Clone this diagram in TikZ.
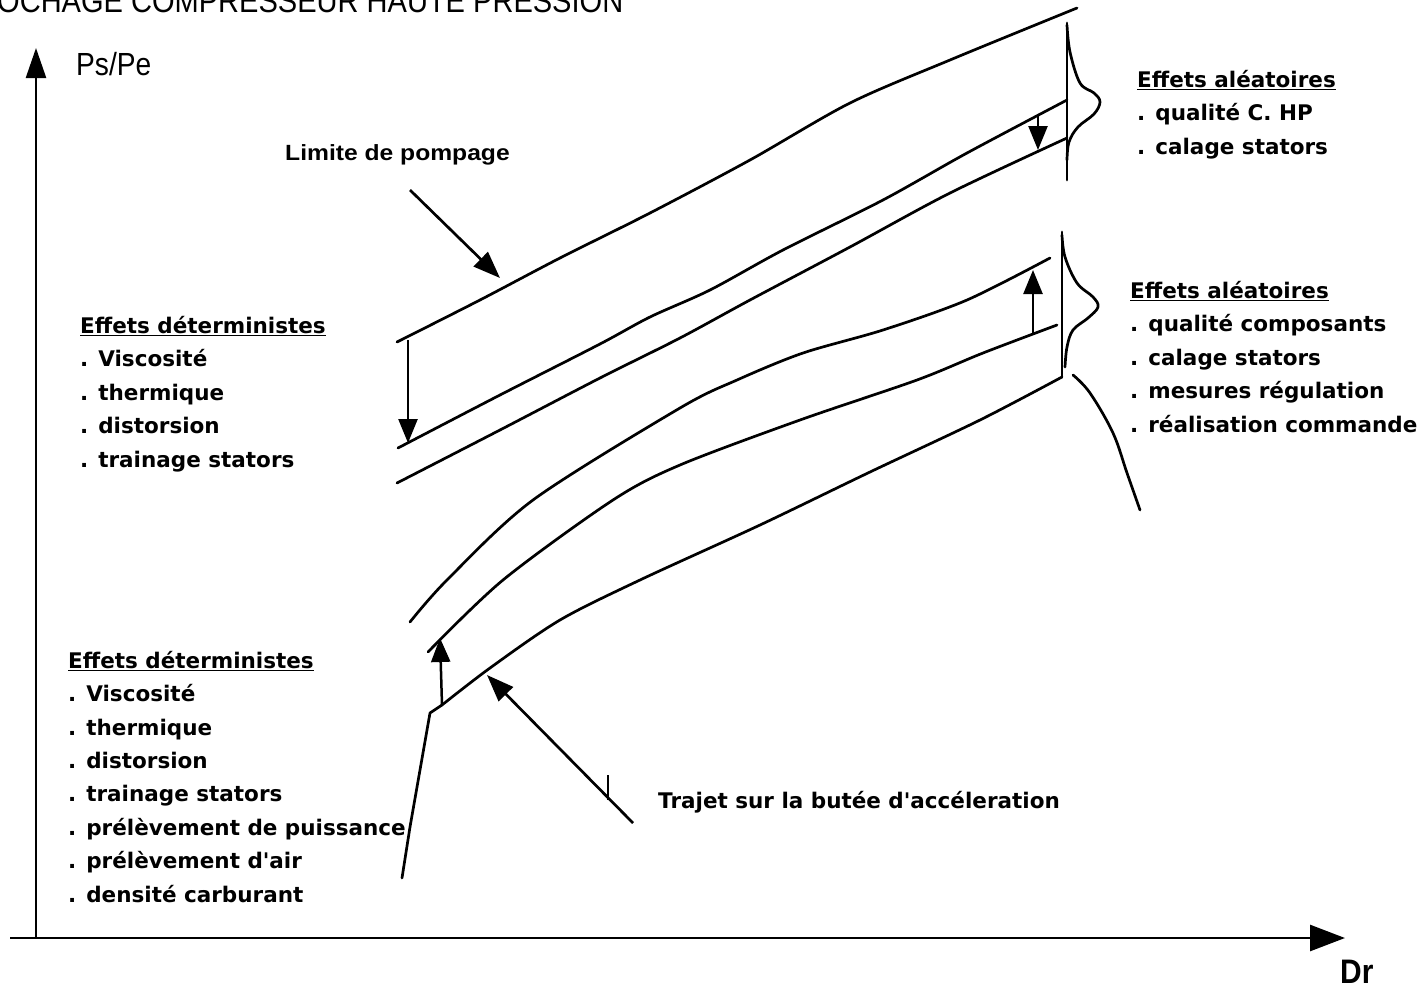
\documentclass[tikz,border=0pt]{standalone}
\usepackage{fontspec}
\usetikzlibrary{arrows.meta}
\setmainfont{DejaVu Sans}
\newfontfamily\narrowfont[FakeStretch=0.88]{Liberation Sans}
\newfontfamily\limfont[FakeStretch=1.12]{Liberation Sans}
\tikzset{
  trait/.style={line width=2.7pt,line cap=round,line join=round},
  fleche/.style={line width=2.7pt,-{Triangle[length=27pt,width=20pt]}},
  petite/.style={line width=2.5pt,-{Triangle[length=24pt,width=19pt]}},
  bloc/.style={align=left,font=\fontsize{21.5}{33.4}\selectfont\bfseries},
}
\begin{document}
\begin{tikzpicture}[x=1pt,y=-1pt]
        \useasboundingbox[fill=white] (0,0) rectangle (1422,988);
        % les blocs sont places par la ligne de base de leur derniere ligne
        \begin{scope}[every node/.style={anchor=base west,inner sep=0pt}]
          \node[font=\narrowfont\fontsize{33}{33}\selectfont] (titre) at (-3,12) {OCHAGE COMPRESSEUR HAUTE PRESSION};
          \node[font=\narrowfont\fontsize{32}{32}\selectfont] (ps) at (76,75) {Ps/Pe};
          \node[font=\narrowfont\fontsize{34}{34}\selectfont\bfseries] (dr) at (1340,983) {Dr};
          \node[font=\limfont\fontsize{22}{22}\selectfont\bfseries] (lim) at (285,160) {Limite de pompage};
          \node[bloc] (detHaut) at (80,467) {\underline{Effets déterministes}\\. Viscosité\\. thermique\\. distorsion\\. trainage stators};
          \node[bloc] (detBas) at (68,902) {\underline{Effets déterministes}\\. Viscosité\\. thermique\\. distorsion\\. trainage stators\\. prélèvement de puissance\\. prélèvement d\textquotesingle air\\. densité carburant};
          \node[bloc] (aleaHaut) at (1137,154) {\underline{Effets aléatoires}\\. qualité C. HP\\. calage stators};
          \node[bloc] (aleaBas) at (1130,432) {\underline{Effets aléatoires}\\. qualité composants\\. calage stators\\. mesures régulation\\. réalisation commande};
          \node[bloc] (trajet) at (658,808) {Trajet sur la butée d\textquotesingle accéleration};
        \end{scope}
        % axes
        \coordinate (O) at (36,938);
        \coordinate (yhaut) at (36,48);
        \coordinate (xgauche) at (10,938);
        \coordinate (xdroite) at (1345,938);
        \draw[line width=2.4pt,-{Triangle[length=30pt,width=20pt]}] (O) -- (yhaut);
        \draw[line width=2.7pt,-{Triangle[length=35pt,width=26pt]}] (xgauche) -- (xdroite);
        % bande du haut
        \draw[trait] plot[smooth,tension=0.5] coordinates {(397,342) (480,300) (560,258) (650,213) (750,160) (850,103) (950,60) (1077,8)};
        \draw[trait] plot[smooth,tension=0.5] coordinates {(398,448) (500,395) (600,344) (650,317) (710,290) (783,250) (883,200) (967,153) (1067,100)};
        \draw[trait] plot[smooth,tension=0.5] coordinates {(397,483) (500,430) (600,378) (680,338) (750,300) (850,247) (950,193) (1067,138)};
        \draw[trait] (1067,23) -- (1067,180);
        \draw[trait] plot[smooth,tension=0.6] coordinates {(1067,25) (1070,52) (1080,83) (1094,93) (1100,102) (1094,114) (1078,127) (1069,142) (1067,160)};
        % bande du bas
        \draw[trait] plot[smooth,tension=0.5] coordinates {(410,622) (447,580) (533,500) (680,408) (737,380) (803,353) (883,330) (967,300) (1050,258)};
        \draw[trait] plot[smooth,tension=0.5] coordinates {(428,652) (503,580) (613,500) (680,465) (800,420) (917,380) (983,353) (1057,325)};
        \draw[trait] (402,878) -- (410,827) -- (430,713) -- (442,705);
        \draw[trait] plot[smooth,tension=0.5] coordinates {(442,705) (490,668) (560,620) (640,580) (760,525) (870,472) (980,420) (1062,377)};
        \draw[trait] (1062,377) -- (1062,232);
        \draw[trait] plot[smooth,tension=0.6] coordinates {(1062,235) (1065,257) (1077,283) (1093,297) (1098,307) (1088,318) (1073,330) (1067,347) (1065,367)};
        \draw[trait] plot[smooth,tension=0.6] coordinates {(1073,375) (1090,393) (1113,433) (1127,473) (1140,510)};
        % fleches
        \coordinate (limDebut) at (410,190);
        \coordinate (limBout) at (500,278);
        \coordinate (trDebut) at (633,823);
        \coordinate (trBout) at (487,675);
        \path (limDebut) edge[fleche] (limBout);
        \path (trDebut) edge[fleche] (trBout);
        \draw[line width=2pt] (608,775) -- (608,800);
        \path (408,340) edge[petite] (408,443);
        \path (1038,116) edge[petite] (1038,150);
        \path (442,705) edge[petite] (440,638);
        \path (1033,333) edge[petite] (1033,270);
      \end{tikzpicture}
\end{document}
